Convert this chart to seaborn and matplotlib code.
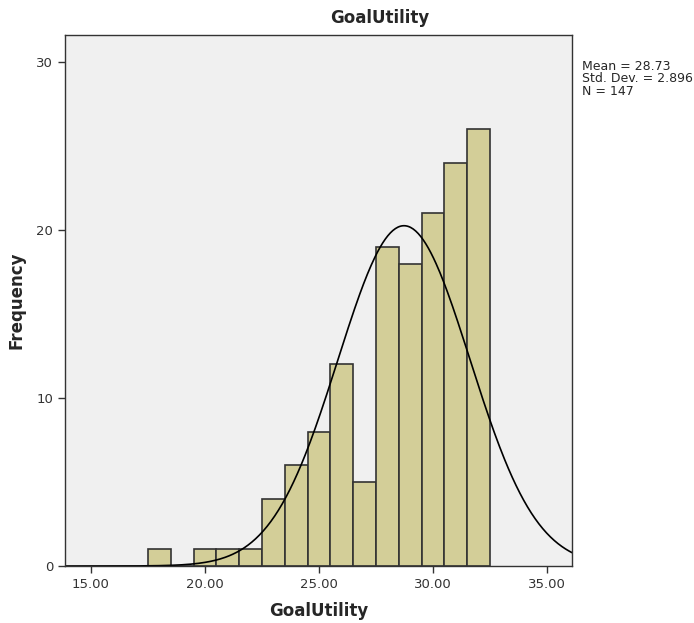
import numpy as np
import pandas as pd
import matplotlib
matplotlib.use("Agg")
import matplotlib.pyplot as plt
import seaborn as sns

# Data
bin_centers = [18, 19, 20, 21, 22, 23, 24, 25, 26, 27, 28, 29, 30, 31, 32]
counts = [1, 0, 1, 1, 1, 4, 6, 8, 12, 5, 19, 18, 21, 24, 26]
mean_val = 28.73
std_val = 2.896
n_val = 147
x_ticks = [15, 20, 25, 30, 35]
y_ticks = [0, 10, 20, 30]

sns.set_style("white")
plt.rcParams['font.family'] = ['DejaVu Sans']

fig = plt.figure(figsize=(6.94, 6.23), dpi=100)
ax = fig.add_axes([65 / 694, 57 / 623, (572 - 65) / 694, (566 - 35) / 623])
ax.set_facecolor("#F0F0F0")

df = pd.DataFrame({"GoalUtility": bin_centers, "count": counts})
sns.histplot(data=df, x="GoalUtility", weights="count", binwidth=1.0,
             binrange=(17.5, 32.5), ax=ax,
             color="#D3CE98", edgecolor="#333333", linewidth=1.2, alpha=1.0)

xmin, xmax = 13.86, 36.1
xs = np.linspace(xmin, xmax, 400)
ys = n_val * 1.0 * np.exp(-0.5 * ((xs - mean_val) / std_val) ** 2) / (std_val * np.sqrt(2 * np.pi))
sns.lineplot(x=xs, y=ys, ax=ax, color="black", linewidth=1.2)

ax.set_xlim(xmin, xmax)
ax.set_ylim(0, 31.6)
ax.set_xticks(x_ticks)
ax.set_xticklabels([f"{v:.2f}" for v in x_ticks])
ax.set_yticks(y_ticks)
ax.tick_params(axis="both", direction="out", length=5, width=1, color="#333333",
               labelsize=9.5, labelcolor="#333333", bottom=True, left=True)
for s in ax.spines.values():
    s.set_color("#333333")
    s.set_linewidth(1.0)

ax.set_xlabel("GoalUtility", fontsize=12, fontweight="bold", labelpad=8)
ax.set_ylabel("Frequency", fontsize=12, fontweight="bold", labelpad=8)
fig.text(380 / 694, 1 - 18 / 623, "GoalUtility", ha="center", va="center",
         fontsize=12, fontweight="bold")
fig.text(582 / 694, 1 - 60 / 623, f"Mean = {mean_val}\nStd. Dev. = {std_val}\nN = {n_val}",
         ha="left", va="top", fontsize=9, linespacing=0.95)

fig.savefig("out.png", dpi=100)
